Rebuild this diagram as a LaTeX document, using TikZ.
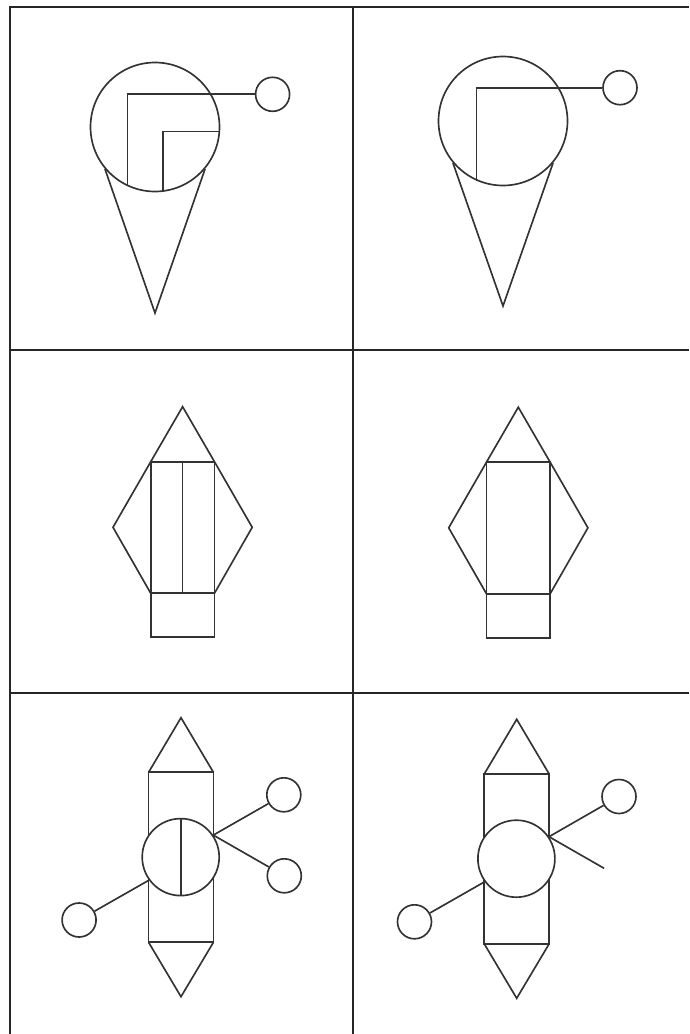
\documentclass[tikz,border=0pt]{standalone}
\usepackage{tikz}
\usetikzlibrary{calc}

\begin{document}
\begin{tikzpicture}[x=1pt, y=-1pt,
  grid/.style={line width=2.2pt, draw=black!85},
  fig/.style={line width=1.65pt, draw=black!80},
  bigc/.style={fig, circle, fill=white, inner sep=0pt, minimum size=129pt},
  midc/.style={fig, circle, fill=white, inner sep=0pt, minimum size=77pt},
  smallc/.style={fig, circle, inner sep=0pt, minimum size=34pt}]
  \useasboundingbox (0,0) rectangle (689,1034);

  \draw[grid] (9.7,1034) -- (9.7,6.7) -- (689,6.7);
  \draw[grid] (352.8,6.7) -- (352.8,1034);
  \foreach \y in {350,693.3}{
    \draw[grid] (9.7,\y) -- (689,\y);
  }

  % cones
  \coordinate (tipA) at (155,313);
  \coordinate (tipB) at (503,306);
  \node[bigc] (cA) at (155,127) {};
  \node[bigc] (cB) at (503,121) {};
  \node[smallc] (sA) at (272.6,94.3) {};
  \node[smallc] (sB) at (620,87.7) {};
  \draw[fig] (cA.220) -- (tipA) -- (cA.320);
  \draw[fig] (cB.220) -- (tipB) -- (cB.320);
  \draw[fig] (cA.245.8) |- (sA.west);
  \draw[fig] (cA.277.4) |- (cA.356.7);
  \draw[fig] (cB.246) |- (sB.west);

  % pencils
  \foreach \cx/\cy in {182.6/0, 518.3/0.5}{
    \begin{scope}[shift={(\cx,\cy)}]
      \draw[fig] (-31.85,461.7) rectangle (31.85,593.3);
      \draw[fig] (-31.85,593.3) rectangle (31.85,637.3);
      \draw[fig] (-31.85,461.7) -- (0,406.7) -- (31.85,461.7);
      \draw[fig] (-31.85,461.7) -- (-69.6,527.3) -- (-31.85,593.3);
      \draw[fig] (31.85,461.7) -- (69.6,527.3) -- (31.85,593.3);
    \end{scope}
  }
  \draw[fig] (182.6,461.7) -- (182.6,593.3);

  % rockets
  \foreach \n/\cx/\cy in {E/181/0, F/516.7/1.6}{
    \begin{scope}[shift={(\cx,\cy)}]
      \draw[fig] (-32.4,772.3) rectangle (32.4,942.3);
      \draw[fig] (-32.4,772.3) -- (0,717.7) -- (32.4,772.3);
      \draw[fig] (-32.4,942.3) -- (0,996.7) -- (32.4,942.3);
      \node[midc] (c\n) at (-0.3,857.1) {};
    \end{scope}
  }
  \node[smallc] (sE1) at (283.8,794.8) {};
  \node[smallc] (sE2) at (284.3,875.8) {};
  \node[smallc] (sE3) at (79.1,920) {};
  \draw[fig] (cE.north) -- (cE.south);
  \draw[fig] (sE1) -- (cE.34) -- (sE2);
  \draw[fig] (cE.216) -- (sE3);

  \node[smallc] (sF1) at (619,796.5) {};
  \node[smallc] (sF3) at (414.5,921.8) {};
  \coordinate (fF) at (604.1,868.3);
  \draw[fig] (sF1) -- (cF.34) -- (fF);
  \draw[fig] (cF.216) -- (sF3);
\end{tikzpicture}
\end{document}
